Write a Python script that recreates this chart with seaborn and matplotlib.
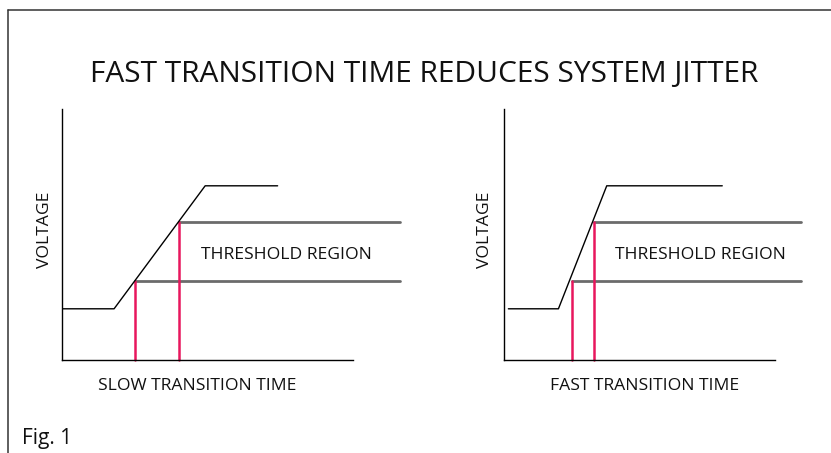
import matplotlib
matplotlib.use("Agg")
import matplotlib.pyplot as plt
from matplotlib.lines import Line2D
import seaborn as sns
import pandas as pd

sns.set_theme(style="white")
plt.rcParams['font.family'] = ['Open Sans', 'DejaVu Sans']

# ---- data (time / voltage in arbitrary units) ----
title = "FAST TRANSITION TIME REDUCES SYSTEM JITTER"
panel_labels = ["SLOW TRANSITION TIME", "FAST TRANSITION TIME"]
ylabel = "VOLTAGE"
region_label = "THRESHOLD REGION"
fig_label = "Fig. 1"

slow_t = [0.05, 1.80, 4.93, 7.42]
slow_v = [2.04, 2.04, 6.94, 6.94]
fast_t = [0.14, 1.86, 3.52, 7.49]
fast_v = [2.04, 2.04, 6.94, 6.94]

thr_low = 3.16
thr_high = 5.50
slow_cross = [2.52, 4.04]      # times where slow edge crosses thresholds
fast_cross = [2.31, 3.08]      # times where fast edge crosses thresholds
slow_thr_end = 11.63
fast_thr_end = 10.19

W, H = 831, 453
fig = plt.figure(figsize=(W / 100, H / 100), dpi=100)

# outer frame (top and left edges only visible)
fx, fy = 7.7 / W, (H - 10) / H
fig.add_artist(Line2D([fx, 1.0], [fy, fy], transform=fig.transFigure,
                      color="#333333", linewidth=1.1))
fig.add_artist(Line2D([fx, fx], [0.0, fy], transform=fig.transFigure,
                      color="#333333", linewidth=1.1))

ax_l = fig.add_axes([61.7 / W, (H - 360) / H, 291 / W, 251 / H])
ax_r = fig.add_axes([504.3 / W, (H - 360) / H, 270.7 / W, 251 / H])

panels = [
    (ax_l, slow_t, slow_v, slow_cross, slow_thr_end, panel_labels[0], 291 / 29.1, 7.73, (197.5 - 61.7) / 291, (45 - 61.7) / 291),
    (ax_r, fast_t, fast_v, fast_cross, fast_thr_end, panel_labels[1], 270.7 / 29.1, 6.73, (644.7 - 504.3) / 270.7, (485 - 504.3) / 270.7),
]

gray = "#6b6b6b"
red = "#e8175d"
fs = 12.6

for ax, t, v, cross, thr_end, xl, xmax, tx, xlab_x, ylab_x in panels:
    ax.set_xlim(0, xmax)
    ax.set_ylim(0, 10)
    # threshold lines
    df_lo = pd.DataFrame({"t": [cross[0], thr_end], "v": [thr_low, thr_low]})
    df_hi = pd.DataFrame({"t": [cross[1], thr_end], "v": [thr_high, thr_high]})
    for d in (df_lo, df_hi):
        sns.lineplot(data=d, x="t", y="v", ax=ax, color=gray, linewidth=2.0,
                     estimator=None, sort=False)
    # red crossing markers
    for c, lvl in zip(cross, [thr_low, thr_high]):
        d = pd.DataFrame({"t": [c, c], "v": [0, lvl]})
        sns.lineplot(data=d, x="t", y="v", ax=ax, color=red, linewidth=1.8,
                     estimator=None, sort=False)
    # signal
    sig = pd.DataFrame({"t": t, "v": v})
    sns.lineplot(data=sig, x="t", y="v", ax=ax, color="black", linewidth=1.0,
                 estimator=None, sort=False)
    for line in ax.get_lines():
        line.set_clip_on(False)
    ax.text(tx, 4.2, region_label, ha="center", va="center", fontsize=fs, color="#111111")
    ax.set_xticks([])
    ax.set_yticks([])
    ax.set_xlabel(xl, fontsize=fs, color="#111111")
    ax.set_ylabel(ylabel, fontsize=fs, color="#111111")
    ax.xaxis.set_label_coords(xlab_x, -26 / 251, transform=ax.transAxes)
    ax.yaxis.set_label_coords(ylab_x, (360 - 230) / 251, transform=ax.transAxes)
    ax.xaxis.label.set_va("center")
    ax.yaxis.label.set_va("center")
    for s in ["top", "right"]:
        ax.spines[s].set_visible(False)
    for s in ["left", "bottom"]:
        ax.spines[s].set_color("black")
        ax.spines[s].set_linewidth(1.0)
    ax.patch.set_alpha(0)

fig.text(424.5 / W, (H - 82) / H, title, ha="center", va="baseline", fontsize=21.5, color="#111111")
fig.text(21.7 / W, (H - 444) / H, fig_label, ha="left", va="baseline", fontsize=15, color="#111111")

fig.savefig("out.png", dpi=100)
